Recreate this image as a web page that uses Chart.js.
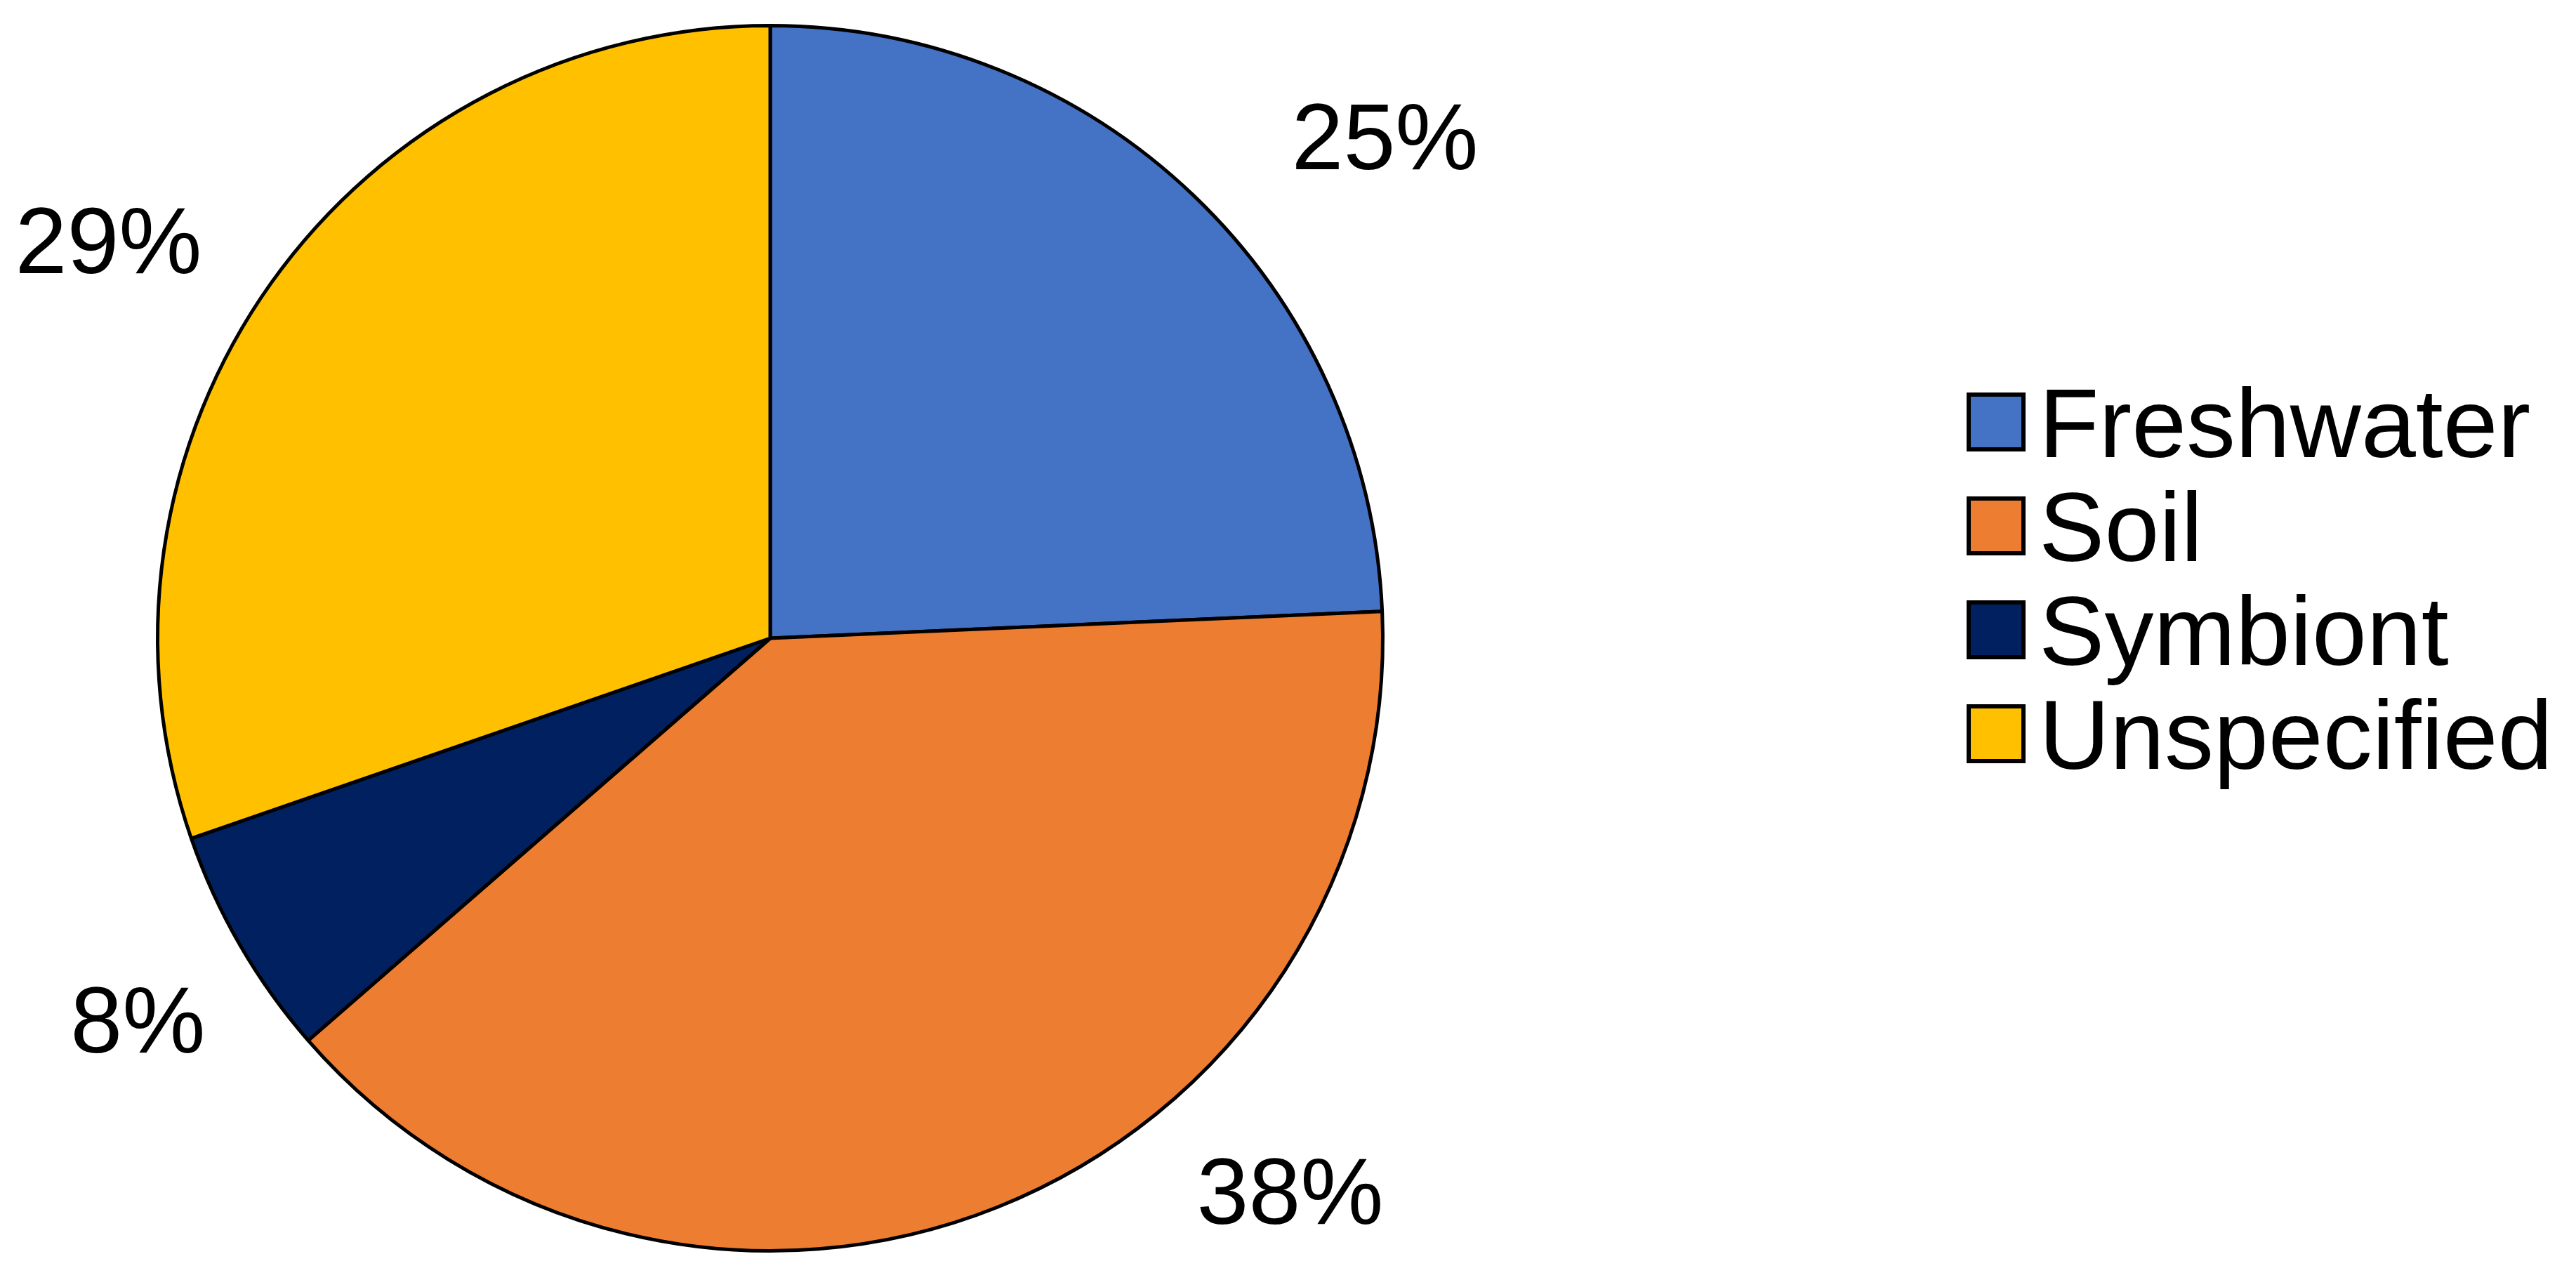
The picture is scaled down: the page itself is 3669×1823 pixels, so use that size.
<!DOCTYPE html>
<html>
<head>
<meta charset="utf-8">
<script src="https://cdn.jsdelivr.net/npm/chart.js@4"></script>
<style>
  html, body { margin: 0; padding: 0; background: #fff; }
  canvas { display: block; }
</style>
</head>
<body>
<canvas id="grafHabitat" width="3669" height="1823"></canvas>
<script>
// data (slice sizes from the drawn angles, labels as printed)
const categorias = ['Freshwater', 'Soil', 'Symbiont', 'Unspecified']
const valores = [24.3, 39.3, 6.1, 30.3]
const etiquetas = ['25%', '38%', '8%', '29%']
const colores = ['#4472C4', '#ED7D31', '#002060', '#FFC000']

const fuente = '"Liberation Sans", Arial, sans-serif'

// percentage labels outside the pie, placed from each arc's own geometry
const giroEtiqueta = [7, -21.5, -1, -4.4]
const distEtiqueta = [1.296, 1.238, 1.205, 1.261]

const etiquetasPlugin = {
    id: 'etiquetas',
    afterDatasetsDraw(chart){
        const ctx = chart.ctx
        const arcs = chart.getDatasetMeta(0).data
        ctx.save()
        ctx.font = '133px ' + fuente
        ctx.fillStyle = '#000'
        ctx.textAlign = 'center'
        ctx.textBaseline = 'alphabetic'
        arcs.forEach((arc, i) => {
            const p = arc.getProps(['x','y','startAngle','endAngle','outerRadius'], true)
            const ang = (p.startAngle + p.endAngle) / 2 + giroEtiqueta[i] * Math.PI / 180
            const r = p.outerRadius * distEtiqueta[i]
            const x = p.x + Math.cos(ang) * r
            const y = p.y + Math.sin(ang) * r
            ctx.fillText(etiquetas[i], x, y + 48)
        })
        ctx.restore()
    }
}

// legend on the right, drawn by hand so it can sit away from the pie
const leyendaPlugin = {
    id: 'leyenda',
    afterDraw(chart){
        const ctx = chart.ctx
        const x0 = 2804, y0 = 601, paso = 148, lado = 78
        ctx.save()
        ctx.font = '140px ' + fuente
        ctx.textAlign = 'left'
        ctx.textBaseline = 'alphabetic'
        chart.data.labels.forEach((nombre, i) => {
            const cy = y0 + i * paso
            ctx.fillStyle = chart.data.datasets[0].backgroundColor[i]
            ctx.fillRect(x0, cy - lado / 2, lado, lado)
            ctx.lineWidth = 6
            ctx.strokeStyle = '#000'
            ctx.strokeRect(x0, cy - lado / 2, lado, lado)
            ctx.fillStyle = '#000'
            ctx.fillText(nombre, x0 + 100, cy + 50)
        })
        ctx.restore()
    }
}

let grafHabitat = document.getElementById('grafHabitat')

let tablaHabitat = new Chart(grafHabitat,{
    type:'pie',
    plugins:[etiquetasPlugin, leyendaPlugin],
    options:{
        responsive: false,
        animation: false,
        devicePixelRatio: 1,
        layout:{
            padding:{ left: 222, right: 1697, top: 33, bottom: 38 },
        },
        plugins:{
            legend:{ display: false },
            tooltip:{ enabled: false },
        },
    },
    data:{
        labels: categorias,
        datasets:[{
            data: valores,
            backgroundColor: colores,
            borderColor: '#000',
            borderWidth: 5,
        }]
    }
})
</script>
</body>
</html>
